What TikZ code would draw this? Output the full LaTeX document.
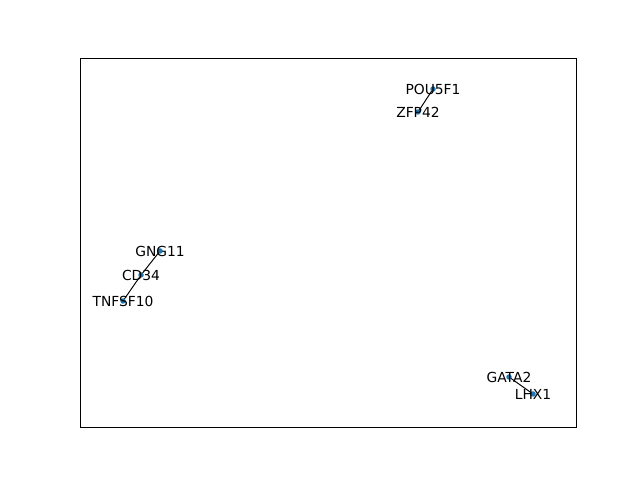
\documentclass[tikz,border=0pt]{standalone}
\usepackage{fontspec}
\setmainfont{DejaVu Sans}
\usetikzlibrary{positioning}
\definecolor{nodeblue}{HTML}{1F78B4}

\begin{document}
\begin{tikzpicture}[
  x=0.01in, y=-0.01in,
  gene/.style={circle, fill=nodeblue, inner sep=0pt, minimum size=0.055in},
  genelabel/.style={inner sep=0pt, font=\fontsize{10}{12}\selectfont},
  edge/.style={draw=black, line width=0.7pt}
]
  \useasboundingbox (0,0) rectangle (640,480);
  \draw[line width=0.6pt] (80,58) rectangle (576,427);

  % gene positions
  \coordinate (pou) at (433,89);
  \coordinate (zfp) at (418,112);
  \coordinate (gng) at (160,251);
  \coordinate (cd) at (141,275);
  \coordinate (tnf) at (123,301);
  \coordinate (gata) at (509,377);
  \coordinate (lhx) at (533,394);

  % edges
  \draw[edge] (pou) -- (zfp);
  \draw[edge] (gng) -- (cd);
  \draw[edge] (cd) -- (tnf);
  \draw[edge] (gata) -- (lhx);

  % nodes
  \foreach \g in {pou, zfp, gng, cd, tnf, gata, lhx}
    \node[gene] at (\g) {};

  % labels
  \node[genelabel] (lpou) at (pou) {POU5F1};
  \node[genelabel] (lzfp) at (zfp) {ZFP42};
  \node[genelabel] (lgng) at (gng) {GNG11};
  \node[genelabel] (lcd) at (cd) {CD34};
  \node[genelabel] (ltnf) at (tnf) {TNFSF10};
  \node[genelabel] (lgata) at (gata) {GATA2};
  \node[genelabel] (llhx) at (lhx) {LHX1};
\end{tikzpicture}
\end{document}
